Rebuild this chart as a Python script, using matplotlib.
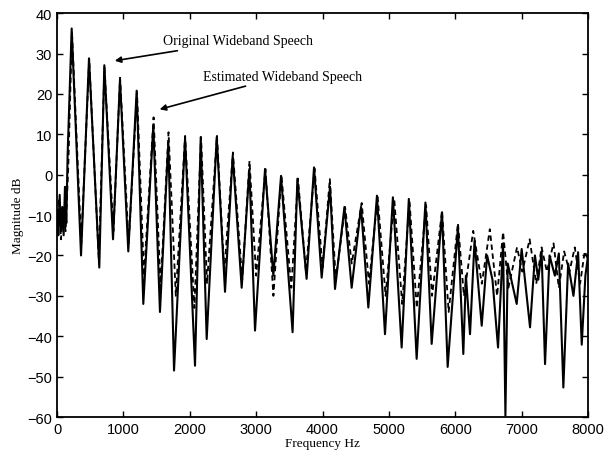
import matplotlib.pyplot as plt

# original wideband speech spectrum (solid)
orig_freq = [0, 20, 40, 60, 80, 100, 120, 140, 160, 221, 362, 482, 637, 713, 844,
             949, 1074, 1200, 1300, 1451, 1551, 1677, 1763, 1929, 2079, 2165, 2255,
             2406, 2531, 2647, 2782, 2898, 2983, 3134, 3259, 3375, 3549, 3621, 3760,
             3872, 3987, 4113, 4188, 4330, 4439, 4580, 4690, 4820, 4941, 5060, 5192,
             5300, 5418, 5550, 5644, 5800, 5885, 6040, 6121, 6160, 6222, 6290, 6398,
             6480, 6560, 6644, 6720, 6755, 6790, 6925, 7000, 7126, 7200, 7250, 7300,
             7352, 7420, 7500, 7560, 7628, 7700, 7780, 7850, 7905, 7960, 8000]
orig_db = [-10, -15, -5, -14, -8, -15, -3, -12, 5, 36.2, -20, 28.8, -23, 27.1, -16,
           23.5, -19, 20.8, -32, 12.1, -34, 8, -48.5, 9, -47.3, 9.3, -40.7,
           9.3, -29, 4.7, -28, 1.4, -38.6, 1.4, -25, -0.3, -39, -1, -25.8,
           1.8, -25.5, -3, -28.3, -8, -28, -8, -32.9, -5.2, -39.5, -5.6, -42.8,
           -6, -45.6, -6.9, -41.9, -9.3, -47.6, -13, -44.4, -25, -39.5, -16.4, -37.4,
           -20, -26, -42.8, -17, -59.7, -22, -32, -18.4, -37.8, -20, -26, -19,
           -46.9, -20, -25, -19.5, -52.7, -22, -30, -19.2, -42.1, -25, -20]

# estimated wideband speech spectrum (dashed)
est_freq = [0, 30, 60, 90, 130, 170, 225, 365, 485, 630, 715, 850, 950, 1080,
            1205, 1310, 1455, 1560, 1680, 1790, 1930, 2070, 2170, 2260, 2410,
            2520, 2650, 2790, 2900, 3000, 3140, 3260, 3380, 3530, 3630, 3750, 3880,
            4000, 4110, 4200, 4340, 4440, 4590, 4700, 4830, 4950, 5080, 5200, 5310,
            5420, 5560, 5650, 5800, 5900, 6040, 6130, 6270, 6400, 6520, 6630, 6720,
            6800, 6930, 7010, 7120, 7220, 7300, 7380, 7480, 7560, 7640, 7720, 7800,
            7880, 7950, 8000]
est_db = [-12, -6, -16, -9, -14, 2, 35.5, -17, 28.5, -21, 26.5, -14, 24, -17,
          20.5, -25, 14.2, -28, 10.5, -30, 9.6, -33, 9.3, -27, 9.6,
          -24, 5.5, -26, 3.4, -25, 1.4, -30, 0, -28, -1, -24, 1.5,
          -23, -1.1, -26, -8, -22, -7, -27, -5.5, -30, -6, -32, -6.5,
          -33, -7.5, -30, -9, -34, -12, -30, -13.9, -27, -13.5, -30, -14.2,
          -28, -18, -24, -16, -27, -18, -24, -17, -28, -19, -24, -18,
          -27, -19, -21]

plt.rcParams['font.family'] = ['Liberation Serif', 'DejaVu Serif']

fig = plt.figure(figsize=(6.09, 4.6), dpi=100)
ax = fig.add_axes([0.0936, 0.0913, 0.872, 0.878])

ax.plot(est_freq, est_db, color='black', linewidth=1.3, linestyle=(0, (3, 2)))
ax.plot(orig_freq, orig_db, color='black', linewidth=1.5)

ax.set_xlim(0, 8000)
ax.set_ylim(-60, 40)
ax.set_xticks(range(0, 8001, 1000))
ax.set_yticks(range(-60, 41, 10))
ax.tick_params(direction='in', top=True, right=True, length=4, width=1)
for lab in ax.get_xticklabels() + ax.get_yticklabels():
    lab.set_fontfamily('Liberation Sans')
    lab.set_fontsize(10.5)
for sp in ax.spines.values():
    sp.set_linewidth(1.3)

ax.set_xlabel('Frequency Hz', fontsize=9.5, labelpad=1)
ax.set_ylabel('Magnitude dB', fontsize=9.5, labelpad=2)

arrow = dict(arrowstyle='-|>', color='black', lw=1.2, mutation_scale=9)
ax.annotate('Original Wideband Speech', xy=(829, 28.1), xytext=(1597, 33.1),
            fontsize=10, va='center', ha='left', arrowprops=arrow)
ax.annotate('Estimated Wideband Speech', xy=(1506, 16), xytext=(2200, 24.4),
            fontsize=10, va='center', ha='left', arrowprops=arrow)

fig.savefig('out.png', dpi=100)
